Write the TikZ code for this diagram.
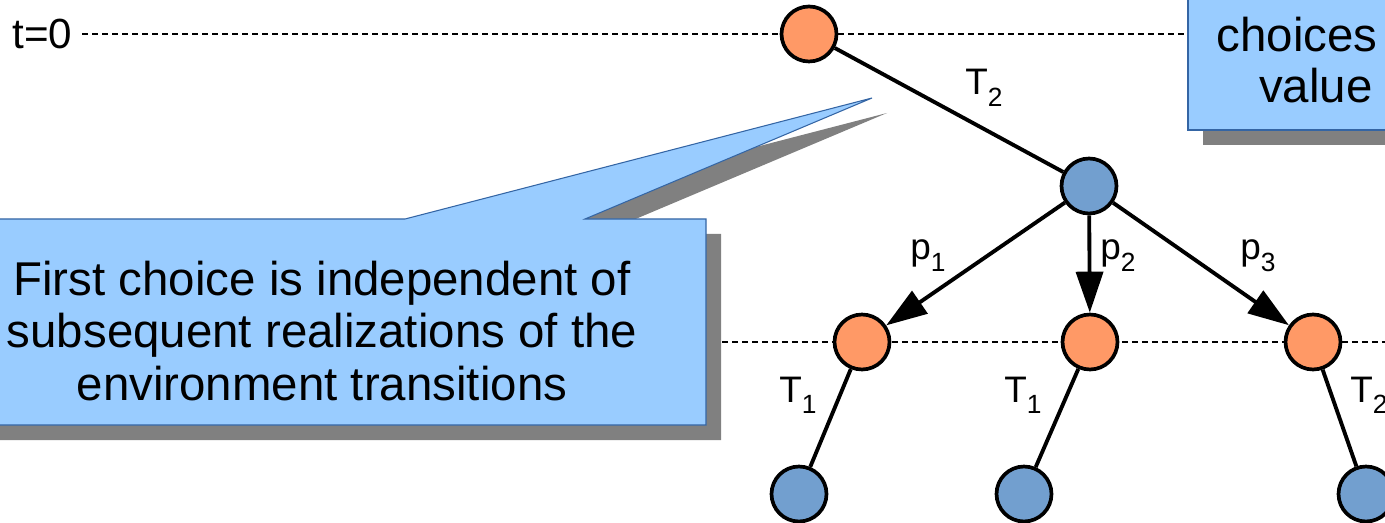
\documentclass[tikz,border=0pt]{standalone}
\usepackage{fontspec}
\setmainfont{Liberation Sans}
\usetikzlibrary{positioning,arrows.meta}
\definecolor{stateorange}{HTML}{FF9966}
\definecolor{stateblue}{HTML}{729FCF}
\definecolor{notefill}{HTML}{99CCFF}
\definecolor{noteline}{HTML}{3465A4}
\definecolor{noteshadow}{HTML}{808080}
\newcommand{\sublbl}[2]{#1\raisebox{-6.8pt}{\fontsize{15}{15}\selectfont #2}}

\begin{document}
\begin{tikzpicture}[x=0.02cm, y=-0.02cm,
  choice/.style={circle, draw, line width=2.1pt, fill=stateorange, minimum size=1.1cm, inner sep=0pt},
  chance/.style={circle, draw, line width=2.1pt, fill=stateblue, minimum size=1.1cm, inner sep=0pt},
  edge/.style={line width=2.2pt},
  prob/.style={edge, -{Triangle[length=0.82cm, width=0.54cm]}},
  guide/.style={line width=1pt, dash pattern=on 0.12cm off 0.08cm},
  lbl/.style={font=\fontsize{21}{21}\selectfont, inner sep=0pt, anchor=base west},
  notetext/.style={font=\fontsize{27}{30}\selectfont, inner sep=0pt}]
\useasboundingbox (0,0) rectangle (1385,523);
\clip (0,0) rectangle (1385,523);

% time lines
\node[font=\fontsize{24}{24}\selectfont, inner sep=0pt, anchor=west] (t0) at (12,34) {t=0};
\coordinate (row1w) at (722,342);
\coordinate (row1e) at (1385,342);
\draw[guide] (row1w) -- (row1e);

% callout boxes
\fill[noteshadow] (-10,234) -- (420,234) -- (887,113) -- (600,234) -- (721,234) -- (721,440) -- (-10,440) -- cycle;
\filldraw[fill=notefill, draw=noteline, line width=0.6pt] (-10,219) -- (405,219) -- (872,98) -- (585,219) -- (706,219) -- (706,425) -- (-10,425) -- cycle;
\node[notetext, align=center] (note) at (322,331) {First choice is independent of\\subsequent realizations of the\\environment transitions};

\fill[noteshadow] (1203,-10) rectangle (1420,145);
\filldraw[fill=notefill, draw=noteline, line width=0.6pt] (1188,-10) rectangle (1405,130);
\coordinate (valuew) at (1188,34);
\node[notetext, anchor=base east] (choices) at (1378,52) {choices};
\node[notetext, anchor=base east] (value) at (1373,103) {value};

% tree
\node[choice] (root) at (809,34) {};
\node[chance] (c0) at (1089,186) {};
\node[choice] (a1) at (862,342) {};
\node[choice] (a2) at (1090,342) {};
\node[choice] (a3) at (1313,342) {};
\node[chance] (b1) at (799,494) {};
\node[chance] (b2) at (1024,494) {};
\node[chance] (b3) at (1366,494) {};

\draw[guide, shorten <=0.2cm] (t0) -- (root);
\draw[guide] (root) -- (valuew);

\draw[edge] (root) -- (c0);
\draw[prob] (c0) -- (a1);
\draw[prob] (c0) -- (a2);
\draw[prob] (c0) -- (a3);
\draw[edge] (a1) -- (b1);
\draw[edge] (a2) -- (b2);
\draw[edge] (a3) -- (b3);

\node[lbl] (lt0) at (965,95) {\sublbl{T}{2}};
\node[lbl] (lp1) at (910,260) {\sublbl{p}{1}};
\node[lbl] (lp2) at (1100,260) {\sublbl{p}{2}};
\node[lbl] (lp3) at (1240,260) {\sublbl{p}{3}};
\node[lbl] (lt1) at (779,402) {\sublbl{T}{1}};
\node[lbl] (lt2) at (1004,402) {\sublbl{T}{1}};
\node[lbl] (lt3) at (1350,402) {\sublbl{T}{2}};
\end{tikzpicture}
\end{document}
